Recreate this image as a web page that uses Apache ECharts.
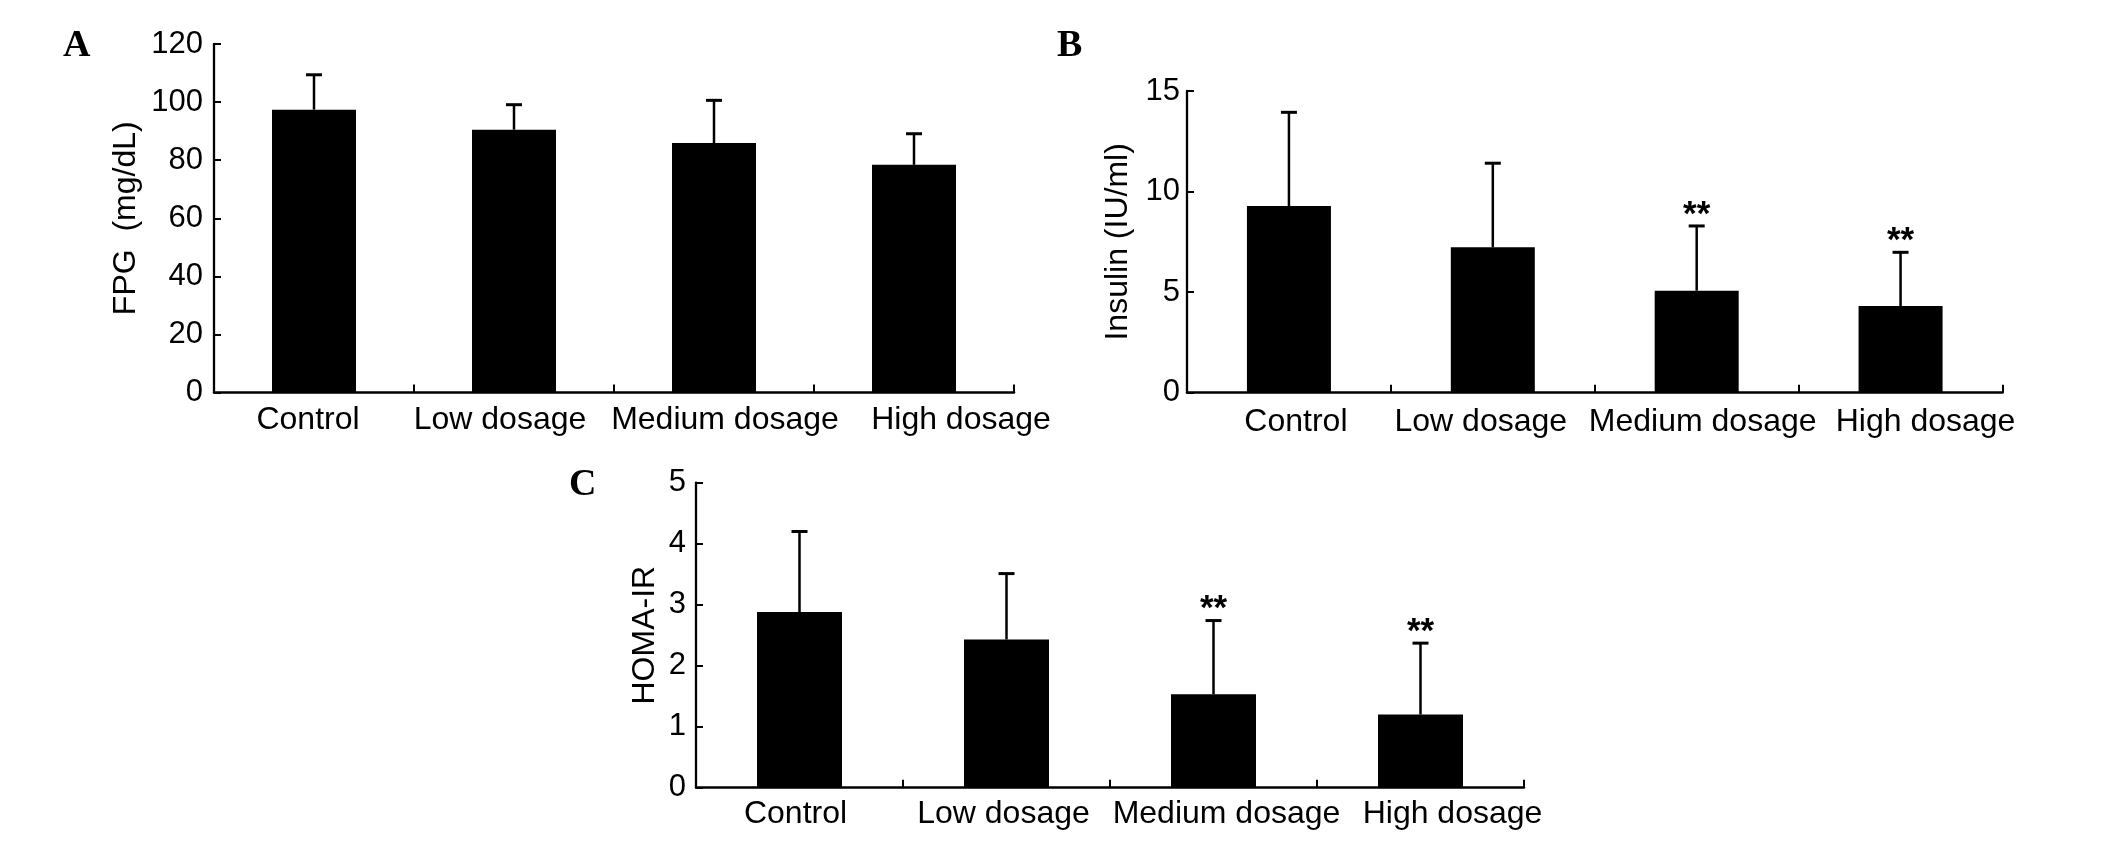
<!DOCTYPE html>
<html>
<head>
<meta charset="utf-8">
<script src="https://cdn.jsdelivr.net/npm/echarts@6/dist/echarts.min.js"></script>
<style>
html,body{margin:0;padding:0;background:#fff;}
#chart{width:2126px;height:841px;}
</style>
</head>
<body>
<div id="chart"></div>
<script>
// ---- data ----
const categories = ['Control', 'Low dosage', 'Medium dosage', 'High dosage'];

const fpgMean = [97.4, 90.5, 85.9, 78.4];
const fpgSD = [12.0, 8.6, 14.7, 10.7];

const insulinMean = [9.28, 7.23, 5.07, 4.31];
const insulinSD = [4.66, 4.18, 3.22, 2.67];
const insulinSig = ['', '', '**', '**'];

const homaMean = [2.88, 2.43, 1.53, 1.20];
const homaSD = [1.32, 1.08, 1.21, 1.17];
const homaSig = ['', '', '**', '**'];

const fpgTicks = { min: 0, max: 120, interval: 20 };
const insulinTicks = { min: 0, max: 15, interval: 5 };
const homaTicks = { min: 0, max: 5, interval: 1 };

const panelLetters = ['A', 'B', 'C'];
const yNames = ['FPG  (mg/dL)', 'Insulin (IU/ml)', 'HOMA-IR'];

// ---- layout / style ----
const FONT = 'Liberation Sans, Arial, sans-serif';
const labelShift = [[-6, -14, 11, 47], [7, -12, 6, 25], [-4, -3, 13, 32]];

function richFor(shifts) {
  const r = {};
  shifts.forEach((d, i) => {
    r['s' + i] = {
      fontSize: 32, fontFamily: FONT, color: '#000',
      padding: d >= 0 ? [0, 0, 0, 2 * d] : [0, -2 * d, 0, 0]
    };
  });
  return r;
}

function xAxisFor(gi, lm) {
  return {
    type: 'category', gridIndex: gi, data: categories,
    axisLine: { show: true, lineStyle: { color: '#000', width: 2.5 } },
    axisTick: { show: true, inside: true, length: 8, alignWithLabel: false, lineStyle: { color: '#000', width: 2 } },
    axisLabel: {
      interval: 0, margin: lm, color: '#000', fontSize: 32, fontFamily: FONT,
      formatter: (v, i) => '{s' + i + '|' + v + '}',
      rich: richFor(labelShift[gi])
    },
    splitLine: { show: false }
  };
}

function yAxisFor(gi, t, gap, lm) {
  return {
    type: 'value', gridIndex: gi, min: t.min, max: t.max, interval: t.interval,
    name: yNames[gi], nameLocation: 'middle', nameRotate: 90, nameGap: gap,
    nameTextStyle: { color: '#000', fontSize: 32, fontFamily: FONT },
    axisLine: { show: true, lineStyle: { color: '#000', width: 2.3 } },
    axisTick: { show: true, inside: true, length: 7, lineStyle: { color: '#000', width: 2 } },
    axisLabel: { color: '#000', fontSize: 31, fontFamily: FONT, margin: lm },
    splitLine: { show: false }
  };
}

function errData(mean, sd) {
  return mean.map((m, i) => [i, m, +(m + sd[i]).toFixed(3)]);
}

function errRender(sig) {
  return function (params, api) {
    const i = api.value(0);
    const base = api.coord([i, api.value(1)]);
    const top = api.coord([i, api.value(2)]);
    const children = [
      { type: 'line', shape: { x1: base[0], y1: base[1], x2: top[0], y2: top[1] }, style: { stroke: '#000', lineWidth: 2.5 } },
      { type: 'line', shape: { x1: top[0] - 8, y1: top[1], x2: top[0] + 8, y2: top[1] }, style: { stroke: '#000', lineWidth: 3 } }
    ];
    if (sig && sig[params.dataIndex]) {
      children.push({
        type: 'text',
        style: {
          text: sig[params.dataIndex], x: top[0], y: top[1] - 11,
          align: 'center', verticalAlign: 'middle',
          textAlign: 'center', textVerticalAlign: 'middle',
          fontSize: 35, fontWeight: 'bold', fontFamily: FONT, fill: '#000'
        }
      });
    }
    return { type: 'group', children: children };
  };
}

function barSeries(gi, data, w) {
  return {
    type: 'bar', xAxisIndex: gi, yAxisIndex: gi, data: data, barWidth: w,
    itemStyle: { color: '#000' }, silent: true, animation: false
  };
}

function errSeries(gi, mean, sd, sig) {
  return {
    type: 'custom', xAxisIndex: gi, yAxisIndex: gi, data: errData(mean, sd),
    encode: { x: 0, y: [1, 2] }, renderItem: errRender(sig), silent: true, animation: false, z: 5
  };
}

const letterStyle = { fontFamily: 'Liberation Serif, Times New Roman, serif', fontWeight: 'bold', fontSize: 38, color: '#000' };

const option = {
  backgroundColor: '#fff',
  animation: false,
  title: [
    { text: panelLetters[0], left: 63, top: 27, padding: 0, textStyle: letterStyle },
    { text: panelLetters[1], left: 1057, top: 27, padding: 0, textStyle: letterStyle },
    { text: panelLetters[2], left: 569, top: 466, padding: 0, textStyle: letterStyle }
  ],
  grid: [
    { left: 214, top: 44, width: 800, height: 348.5, outerBoundsMode: 'none', containLabel: false },
    { left: 1187, top: 91, width: 815.5, height: 301.7, outerBoundsMode: 'none', containLabel: false },
    { left: 696, top: 482.7, width: 828, height: 305, outerBoundsMode: 'none', containLabel: false }
  ],
  xAxis: [xAxisFor(0, 12), xAxisFor(1, 13), xAxisFor(2, 10)],
  yAxis: [
    yAxisFor(0, fpgTicks, 72, 11),
    yAxisFor(1, insulinTicks, 53, 7),
    yAxisFor(2, homaTicks, 35, 10)
  ],
  series: [
    barSeries(0, fpgMean, 84),
    errSeries(0, fpgMean, fpgSD, null),
    barSeries(1, insulinMean, 84),
    errSeries(1, insulinMean, insulinSD, insulinSig),
    barSeries(2, homaMean, 85),
    errSeries(2, homaMean, homaSD, homaSig)
  ]
};

const chart = echarts.init(document.getElementById('chart'), null, { renderer: 'canvas' });
chart.setOption(option);
</script>
</body>
</html>
